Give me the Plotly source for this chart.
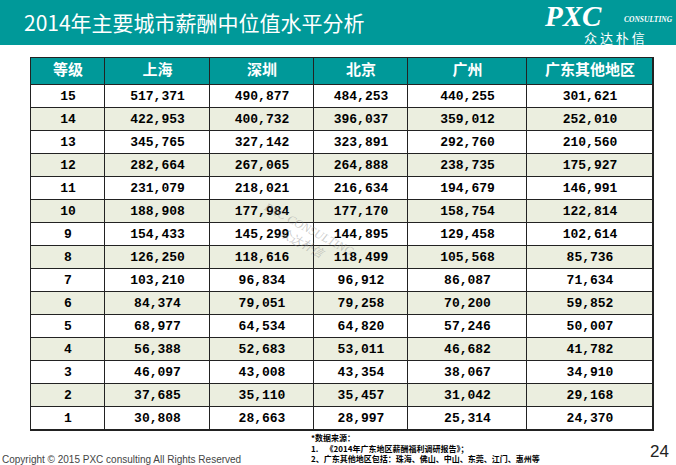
import plotly.graph_objects as go

W, H = 676, 465

header = ["等级", "上海", "深圳", "北京", "广州", "广东其他地区"]
grades = [15, 14, 13, 12, 11, 10, 9, 8, 7, 6, 5, 4, 3, 2, 1]
shanghai = [517371, 422953, 345765, 282664, 231079, 188908, 154433, 126250, 103210, 84374, 68977, 56388, 46097, 37685, 30808]
shenzhen = [490877, 400732, 327142, 267065, 218021, 177984, 145299, 118616, 96834, 79051, 64534, 52683, 43008, 35110, 28663]
beijing = [484253, 396037, 323891, 264888, 216634, 177170, 144895, 118499, 96912, 79258, 64820, 53011, 43354, 35457, 28997]
guangzhou = [440255, 359012, 292760, 238735, 194679, 158754, 129458, 105568, 86087, 70200, 57246, 46682, 38067, 31042, 25314]
guangdong_other = [301621, 252010, 210560, 175927, 146991, 122814, 102614, 85736, 71634, 59852, 50007, 41782, 34910, 29168, 24370]

title = "2014年主要城市薪酬中位值水平分析"
footnotes = ["*数据来源：", "1.    《2014年广东地区薪酬福利调研报告》；", "2、广东其他地区包括：珠海、佛山、中山、东莞、江门、惠州等"]
copyright_text = "Copyright © 2015 PXC consulting All Rights Reserved"
page_no = "24"

# styling (layout sizes, not data)
TEAL = "#009999"
ALT = "#EBEEDF"
BORDER = "#222222"
col_widths = [74, 105, 104, 94, 119, 126]
header_h = 27
row_h = 23

columns = [grades, shanghai, shenzhen, beijing, guangzhou, guangdong_other]
n_rows = len(grades)
n_cols = len(header)

x_edges = [0]
for w in col_widths:
    x_edges.append(x_edges[-1] + w)
x_mid = [(x_edges[i] + x_edges[i + 1]) / 2 for i in range(n_cols)]
y_edges = [0, header_h] + [header_h + row_h * (i + 1) for i in range(n_rows)]
y_mid = [(y_edges[i] + y_edges[i + 1]) / 2 for i in range(n_rows + 1)]

# fill codes: 2 = header, 0 = white row, 1 = shaded row
z = [[2] * n_cols] + [[i % 2] * n_cols for i in range(n_rows)]

def px(x):
    return x / W

def py(y):
    return 1 - y / H

fig = go.Figure()
fig.add_trace(go.Heatmap(
    x=x_edges, y=y_edges, z=z, zmin=0, zmax=2,
    colorscale=[[0, "white"], [0.5, ALT], [1, TEAL]],
    showscale=False, xgap=1, ygap=1, hoverinfo="skip",
))

fig.add_trace(go.Scatter(
    x=x_mid, y=[y_mid[0]] * n_cols, mode="text",
    text=[f"<b>{h}</b>" for h in header],
    textfont=dict(family="Noto Sans CJK SC", size=15, color="white"),
    hoverinfo="skip", showlegend=False,
))
bx, by, bt = [], [], []
for ci, col in enumerate(columns):
    for ri, v in enumerate(col):
        bx.append(x_mid[ci])
        by.append(y_mid[ri + 1])
        bt.append(f"<b>{v:,}</b>")
fig.add_trace(go.Scatter(
    x=bx, y=by, mode="text", text=bt,
    textfont=dict(family="Liberation Mono", size=13, color="black"),
    hoverinfo="skip", showlegend=False,
))

fig.update_xaxes(range=[x_edges[0], x_edges[-1]], domain=[px(31), px(653)],
                 showgrid=False, zeroline=False, showticklabels=False, ticks="",
                 showline=True, mirror=True, linecolor=BORDER, linewidth=1)
fig.update_yaxes(range=[y_edges[-1], y_edges[0]], domain=[py(58 + y_edges[-1]), py(58)],
                 showgrid=False, zeroline=False, showticklabels=False, ticks="",
                 showline=True, mirror=True, linecolor=BORDER, linewidth=1)

shapes = [dict(type="rect", xref="paper", yref="paper", x0=0, x1=1, y0=py(45), y1=1,
               fillcolor=TEAL, line=dict(width=0), layer="below")]

annotations = [
    dict(text=title, x=px(22), y=py(22), xref="paper", yref="paper", xanchor="left", yanchor="middle",
         showarrow=False, font=dict(family="Noto Sans CJK SC", size=21, color="white")),
    dict(text="<b><i>PXC</i></b>", x=px(543), y=py(16), xref="paper", yref="paper", xanchor="left", yanchor="middle",
         showarrow=False, borderpad=0, font=dict(family="Liberation Serif", size=29, color="white")),
    dict(text="<b><i>CONSULTING</i></b>", x=px(623), y=py(20), xref="paper", yref="paper", xanchor="left", yanchor="middle",
         showarrow=False, borderpad=0, font=dict(family="Liberation Serif", size=7.5, color="white")),
    dict(text="众 达 朴 信", x=px(614), y=py(37), xref="paper", yref="paper", xanchor="center", yanchor="middle",
         showarrow=False, borderpad=0, font=dict(family="Noto Sans CJK SC", size=13, color="white")),
    dict(text="<i>PXC CONSULTING<br>众达朴信</i>", x=px(305), y=py(236), xref="paper", yref="paper",
         xanchor="center", yanchor="middle", textangle=28, showarrow=False,
         font=dict(family="Liberation Serif", size=12, color="rgba(140,140,140,0.45)")),
    dict(text=copyright_text, x=0, y=py(459), xref="paper", yref="paper", xanchor="left", yanchor="middle",
         showarrow=False, font=dict(family="Liberation Sans", size=10, color="#444444")),
    dict(text=page_no, x=px(671), y=py(451), xref="paper", yref="paper", xanchor="right", yanchor="middle",
         showarrow=False, font=dict(family="Liberation Sans", size=17, color="#222222")),
]
for t, yy in zip(footnotes, [437, 448, 458]):
    annotations.append(dict(text=f"<b>{t}</b>", x=px(309), y=py(yy), xref="paper", yref="paper",
                            xanchor="left", yanchor="middle", showarrow=False,
                            font=dict(family="Noto Sans CJK SC", size=8, color="black")))

fig.update_layout(
    width=W, height=H,
    margin=dict(l=0, r=0, t=0, b=0),
    paper_bgcolor="white", plot_bgcolor=BORDER,
    shapes=shapes, annotations=annotations, showlegend=False,
)
fig.write_html("out.html", config={"displayModeBar": False},
               post_script="document.body.style.margin='0';")
